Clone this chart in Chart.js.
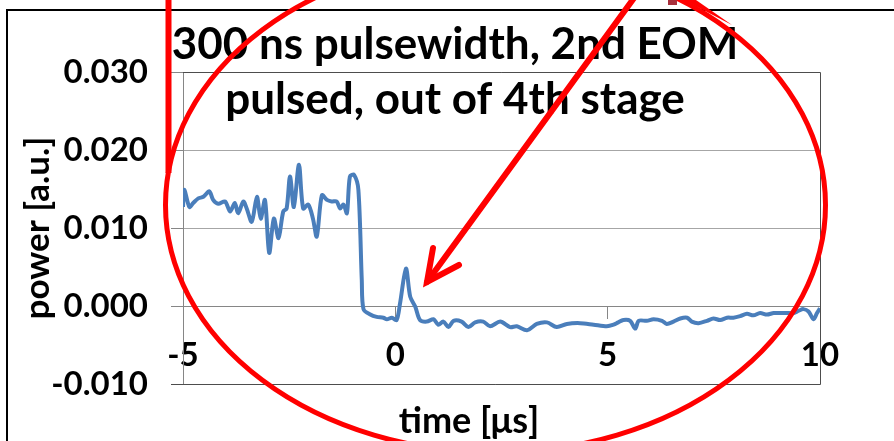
<!DOCTYPE html>
<html>
<head>
<meta charset="utf-8">
<script src="https://cdn.jsdelivr.net/npm/chart.js@4.4.1/dist/chart.umd.min.js"></script>
<style>
  html, body { margin:0; padding:0; background:#fff; }
  #wrap { width:894px; height:441px; }
</style>
</head>
<body>
<div id="wrap"><canvas id="pulseChart" width="894" height="441"></canvas></div>
<script>
// ─── DATA ──────────────────────────────────────────────────
const timeUs = [
  -5.00, -4.97, -4.85, -4.76, -4.64, -4.52, -4.38, -4.29, -4.17, -4.01,
  -3.89, -3.78, -3.70, -3.58, -3.50, -3.38, -3.26, -3.17, -3.07, -2.97,
  -2.86, -2.75, -2.64, -2.56, -2.48, -2.39, -2.27, -2.17, -2.05, -1.94,
  -1.85, -1.73, -1.61, -1.50, -1.38, -1.30, -1.22, -1.14, -1.07, -0.97,
  -0.87, -0.79, -0.75, -0.59, -0.44, -0.28, -0.20, -0.08, 0.03, 0.11,
  0.25, 0.35, 0.47, 0.58, 0.74, 0.90, 1.01, 1.13, 1.25, 1.37,
  1.56, 1.72, 1.88, 2.07, 2.23, 2.47, 2.70, 2.86, 3.10, 3.33,
  3.57, 3.80, 4.04, 4.35, 4.67, 4.98, 5.14, 5.25, 5.37, 5.53,
  5.65, 5.73, 5.92, 6.08, 6.28, 6.39, 6.55, 6.71, 6.87, 6.98,
  7.14, 7.34, 7.49, 7.65, 7.81, 7.96, 8.12, 8.28, 8.43, 8.59,
  8.75, 8.91, 9.06, 9.22, 9.38, 9.50, 9.61, 9.73, 9.85, 9.93, 10.00
];
const powerAU = [
  0.0127, 0.0149, 0.0127, 0.0132, 0.0138, 0.0140, 0.0147, 0.0136, 0.0131, 0.0134,
  0.0121, 0.0132, 0.0119, 0.0134, 0.0125, 0.0108, 0.0140, 0.0112, 0.0136, 0.0068,
  0.0112, 0.0087, 0.0121, 0.0125, 0.0166, 0.0127, 0.0181, 0.0125, 0.0130, 0.0112,
  0.0089, 0.0142, 0.0136, 0.0134, 0.0134, 0.0125, 0.0130, 0.0119, 0.0166, 0.0168,
  0.0149, 0.0033, -0.0004, -0.0011, -0.0014, -0.0015, -0.0017, -0.0015, -0.0018, 0.0003,
  0.0048, 0.0012, -0.0001, -0.0018, -0.0020, -0.0017, -0.0024, -0.0020, -0.0027, -0.0019,
  -0.0020, -0.0027, -0.0021, -0.0020, -0.0026, -0.0020, -0.0027, -0.0026, -0.0031, -0.0023,
  -0.0021, -0.0027, -0.0023, -0.0022, -0.0024, -0.0026, -0.0024, -0.0021, -0.0018, -0.0019,
  -0.0029, -0.0019, -0.0019, -0.0017, -0.0019, -0.0023, -0.0020, -0.0016, -0.0015, -0.0020,
  -0.0022, -0.0019, -0.0016, -0.0018, -0.0015, -0.0015, -0.0013, -0.0010, -0.0012, -0.0009,
  -0.0011, -0.0009, -0.0009, -0.0009, -0.0009, -0.0006, -0.0004, -0.0007, -0.0017, -0.0009, -0.0003
];
const xTicks = [-5, 0, 5, 10];
const yTicks = [-0.01, 0, 0.01, 0.02, 0.03];
const titleLines = ['300 ns pulsewidth, 2nd EOM', 'pulsed, out of 4th stage'];
const xTitle = 'time [μs]';
const yTitle = 'power [a.u.]';

const FONT = 'Lato, "Open Sans", sans-serif';
const LINE_BLUE = '#4a7ebb';
const GRID_GREY = '#a6a6a6';
const AXIS_GREY = '#868686';
const RED = '#ff0000';

// ─── DECORATION (titles, frame, hand-drawn red marks) ─────
const decor = {
  id: 'decor',
  beforeDraw(chart) {
    const ctx = chart.ctx;
    ctx.save();
    ctx.fillStyle = '#fff';
    ctx.fillRect(0, 0, chart.width, chart.height);
    ctx.restore();
  },
  afterDatasetsDraw(chart) {
    const { ctx, chartArea: a } = chart;
    ctx.save();
    // plot-area border (top / right / bottom)
    ctx.strokeStyle = '#4d4d4d';
    ctx.lineWidth = 1;
    ctx.beginPath();
    ctx.moveTo(a.left, a.top + 0.5);
    ctx.lineTo(a.right + 0.5, a.top + 0.5);
    ctx.lineTo(a.right + 0.5, a.bottom + 0.5);
    ctx.lineTo(a.left - 12, a.bottom + 0.5);
    ctx.stroke();

    // slide frame
    ctx.strokeStyle = '#000';
    ctx.lineWidth = 2;
    ctx.beginPath();
    ctx.moveTo(chart.width, 10);
    ctx.lineTo(7, 10);
    ctx.lineTo(7, chart.height);
    ctx.stroke();

    // titles
    ctx.fillStyle = '#000';
    ctx.textAlign = 'center';
    ctx.textBaseline = 'alphabetic';
    ctx.font = `bold 44px ${FONT}`;
    ctx.fillText(titleLines[0], 455, 59);
    ctx.fillText(titleLines[1], 455, 114);
    ctx.font = `bold 36px ${FONT}`;
    ctx.fillText(xTitle, 469, 433);

    // red annotations
    ctx.strokeStyle = RED;
    ctx.fillStyle = RED;
    ctx.lineCap = 'round';
    ctx.lineWidth = 5;
    ctx.beginPath();
    ctx.ellipse(495.5, 205, 330, 247.5, 0, 0, Math.PI * 2);
    ctx.stroke();

    ctx.lineWidth = 6;
    ctx.lineCap = 'butt';
    ctx.beginPath();
    ctx.moveTo(168.5, 0);
    ctx.lineTo(168.5, 173);
    ctx.stroke();

    ctx.lineCap = 'round';
    ctx.beginPath();
    ctx.moveTo(634, -2);
    ctx.lineTo(427, 282);
    ctx.stroke();
    ctx.beginPath();
    ctx.moveTo(433, 248);
    ctx.lineTo(427, 282);
    ctx.lineTo(459, 265);
    ctx.stroke();

    ctx.beginPath();
    ctx.moveTo(684, 0);
    ctx.lineTo(696, 0);
    ctx.lineTo(732, 25);
    ctx.closePath();
    ctx.fill();
    ctx.fillStyle = '#a8303c';
    ctx.fillRect(668, 0, 9, 5);
    ctx.restore();
  }
};

// ─── CHART ─────────────────────────────────────────────────
new Chart(document.getElementById('pulseChart'), {
  type: 'line',
  data: {
    datasets: [{
      data: timeUs.map((t, i) => ({ x: t, y: powerAU[i] })),
      borderColor: LINE_BLUE,
      borderWidth: 4,
      pointRadius: 0,
      tension: 0.3,
      fill: false,
    }],
  },
  options: {
    responsive: false,
    animation: false,
    devicePixelRatio: 1,
    layout: { padding: { left: 10, right: 74, top: 72, bottom: 57 } },
    plugins: { legend: { display: false }, tooltip: { enabled: false } },
    scales: {
      x: {
        type: 'linear',
        position: { y: 0 },
        min: -5,
        max: 10,
        afterBuildTicks: s => { s.ticks = xTicks.map(v => ({ value: v })); },
        grid: { drawOnChartArea: false, drawTicks: true, tickLength: 12, color: AXIS_GREY },
        border: { display: true, color: AXIS_GREY },
        ticks: {
          color: '#000',
          padding: 18,
          maxRotation: 0,
          font: { family: FONT, size: 33, weight: 'bold' },
          callback: v => String(v),
        },
      },
      y: {
        min: -0.01,
        max: 0.03,
        afterBuildTicks: s => { s.ticks = yTicks.map(v => ({ value: v })); },
        afterFit: s => { s.width = 173; },
        grid: { color: GRID_GREY, tickLength: 12, tickColor: AXIS_GREY },
        border: { display: true, color: AXIS_GREY },
        ticks: {
          color: '#000',
          padding: 23,
          font: { family: FONT, size: 33, weight: 'bold' },
          callback: v => v.toFixed(3),
        },
        title: {
          display: true,
          text: yTitle,
          color: '#000',
          padding: { top: 7, bottom: 0 },
          font: { family: FONT, size: 35, weight: 'bold' },
        },
      },
    },
  },
  plugins: [decor],
});
</script>
</body>
</html>
